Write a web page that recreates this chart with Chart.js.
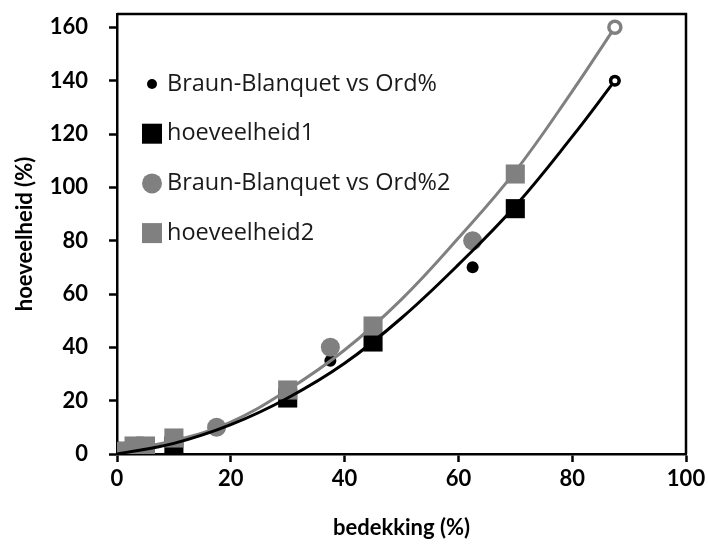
<html>

<head>
  <title>Chart</title>
  <style>
    body {
      margin: 0;
      background: #fff;
    }
  </style>
</head>

<body>
  <canvas id="myChart" width="708" height="546"></canvas>
  <script src="https://cdn.jsdelivr.net/npm/chart.js"></script>
  <script>

    // Braun-Blanquet vs Ord% (black circles)
    var bbX = [0.5, 2.5, 17.5, 37.5, 62.5, 87.5];
    var bbY = [0.5, 1, 10, 35, 70, 140];
    // hoeveelheid1 (black squares)
    var h1X = [1, 3, 5, 10, 30, 45, 70];
    var h1Y = [1, 1, 1, 3, 21, 42, 92];
    // Braun-Blanquet vs Ord%2 (grey circles)
    var bb2X = [0.5, 2.5, 17.5, 37.5, 62.5];
    var bb2Y = [1, 2, 10, 40, 80];
    // hoeveelheid2 (grey squares)
    var h2X = [1, 3, 5, 10, 30, 45, 70];
    var h2Y = [1, 3, 3, 6, 24, 48, 105];

    // trend lines
    var trendX = [0, 10, 20, 30, 40, 50, 60, 70, 80, 87.5];
    var trend1Y = [0, 4, 11, 21, 34, 51, 71, 93, 119, 140];
    var trend2Y = [1, 5, 12, 24, 39, 58, 81, 106, 136, 160];

    var xTicks = [0, 20, 40, 60, 80, 100];
    var yTicks = [0, 20, 40, 60, 80, 100, 120, 140, 160];

    var black = '#000000';
    var grey = '#808080';
    var font = 'Lato, "Liberation Sans", sans-serif';
    var legendFont = '"Open Sans", "Liberation Sans", sans-serif';

    function pts(xs, ys) {
      return xs.map(function (x, i) { return { x: x, y: ys[i] }; });
    }

    function endMarker(n, r) {
      return trendX.map(function (_, i) { return i === n - 1 ? r : 0; });
    }

    // plot frame (top and right edges) plus the legend inside the plot
    var framePlugin = {
      id: 'frame',
      afterDraw: function (chart) {
        var ctx = chart.ctx, a = chart.chartArea;
        ctx.save();
        ctx.strokeStyle = black;
        ctx.lineWidth = 2.5;
        ctx.beginPath();
        ctx.moveTo(a.left, a.top);
        ctx.lineTo(a.right, a.top);
        ctx.lineTo(a.right, a.bottom);
        ctx.stroke();

        ctx.font = '23.5px ' + legendFont;
        ctx.textBaseline = 'middle';
        var items = chart.data.datasets.filter(function (d) { return d.inLegend; });
        items.forEach(function (d, i) {
          var cx = a.left + 35, cy = a.top + 70 + i * 49.7;
          ctx.fillStyle = d.backgroundColor;
          if (d.pointStyle === 'circle') {
            ctx.beginPath();
            ctx.arc(cx, cy, d.legendSize, 0, Math.PI * 2);
            ctx.fill();
          } else {
            ctx.fillRect(cx - d.legendSize, cy - d.legendSize, d.legendSize * 2, d.legendSize * 2);
          }
          ctx.fillStyle = '#1a1a1a';
          ctx.fillText(d.label, a.left + 50, cy);
        });
        ctx.restore();
      }
    };

    function noPadY(axis) {
      axis.width = 117;
      axis.paddingTop = 0;
      axis.paddingBottom = 0;
    }

    function noPadX(axis) {
      axis.height = 92;
      axis.paddingLeft = 0;
      axis.paddingRight = 0;
    }

    var config = {
      type: 'scatter',
      data: {
        datasets: [
          {
            label: 'trend1',
            data: pts(trendX, trend1Y),
            showLine: true,
            borderColor: black,
            borderWidth: 3,
            tension: 0.4,
            pointRadius: endMarker(trendX.length, 4),
            pointBackgroundColor: '#fff',
            pointBorderColor: black,
            pointBorderWidth: 3,
            order: 0
          },
          {
            label: 'trend2',
            data: pts(trendX, trend2Y),
            showLine: true,
            borderColor: grey,
            borderWidth: 3,
            tension: 0.4,
            pointRadius: endMarker(trendX.length, 6),
            pointBackgroundColor: '#fff',
            pointBorderColor: grey,
            pointBorderWidth: 3.5,
            order: 0
          },
          {
            label: 'Braun-Blanquet vs Ord%',
            inLegend: true,
            legendSize: 5,
            data: pts(bbX, bbY),
            pointStyle: 'circle',
            pointRadius: 6,
            backgroundColor: black,
            borderColor: black,
            borderWidth: 0,
            order: 4
          },
          {
            label: 'hoeveelheid1',
            inLegend: true,
            legendSize: 10,
            data: pts(h1X, h1Y),
            pointStyle: 'rect',
            pointRadius: 13.5,
            backgroundColor: black,
            borderColor: black,
            borderWidth: 0,
            order: 3
          },
          {
            label: 'Braun-Blanquet vs Ord%2',
            inLegend: true,
            legendSize: 10,
            data: pts(bb2X, bb2Y),
            pointStyle: 'circle',
            pointRadius: 9.5,
            backgroundColor: grey,
            borderColor: grey,
            borderWidth: 0,
            order: 2
          },
          {
            label: 'hoeveelheid2',
            inLegend: true,
            legendSize: 10,
            data: pts(h2X, h2Y),
            pointStyle: 'rect',
            pointRadius: 13.5,
            backgroundColor: grey,
            borderColor: grey,
            borderWidth: 0,
            order: 1
          }
        ]
      },
      options: {
        responsive: false,
        animation: false,
        layout: { padding: { top: 14, right: 22, left: 0, bottom: 0 } },
        plugins: {
          legend: { display: false },
          tooltip: { enabled: false }
        },
        scales: {
          x: {
            type: 'linear',
            min: 0,
            max: 100,
            afterBuildTicks: function (axis) {
              axis.ticks = xTicks.map(function (v) { return { value: v }; });
            },
            afterFit: noPadX,
            ticks: { color: black, font: { family: font, size: 22, weight: 'bold' }, padding: 4 },
            grid: { drawOnChartArea: false, drawTicks: true, tickLength: 8, tickWidth: 2.5, tickColor: black },
            border: { color: black, width: 2.5 },
            title: {
              display: true,
              text: 'bedekking (%)',
              color: black,
              font: { family: font, size: 22, weight: 'bold' },
              padding: { top: 0, bottom: 5 }
            }
          },
          y: {
            type: 'linear',
            min: 0,
            max: 165,
            afterBuildTicks: function (axis) {
              axis.ticks = yTicks.map(function (v) { return { value: v }; });
            },
            afterFit: noPadY,
            ticks: { color: black, font: { family: font, size: 22, weight: 'bold' }, padding: 21 },
            grid: { drawOnChartArea: false, drawTicks: true, tickLength: 8, tickWidth: 2.5, tickColor: black },
            border: { color: black, width: 2.5 },
            title: {
              display: true,
              text: 'hoeveelheid (%)',
              color: black,
              font: { family: font, size: 22, weight: 'bold' },
              padding: { top: 12, bottom: 0 }
            }
          }
        }
      },
      plugins: [framePlugin]
    };

    var myChart = new Chart(document.getElementById('myChart'), config);

  </script>
</body>

</html>
